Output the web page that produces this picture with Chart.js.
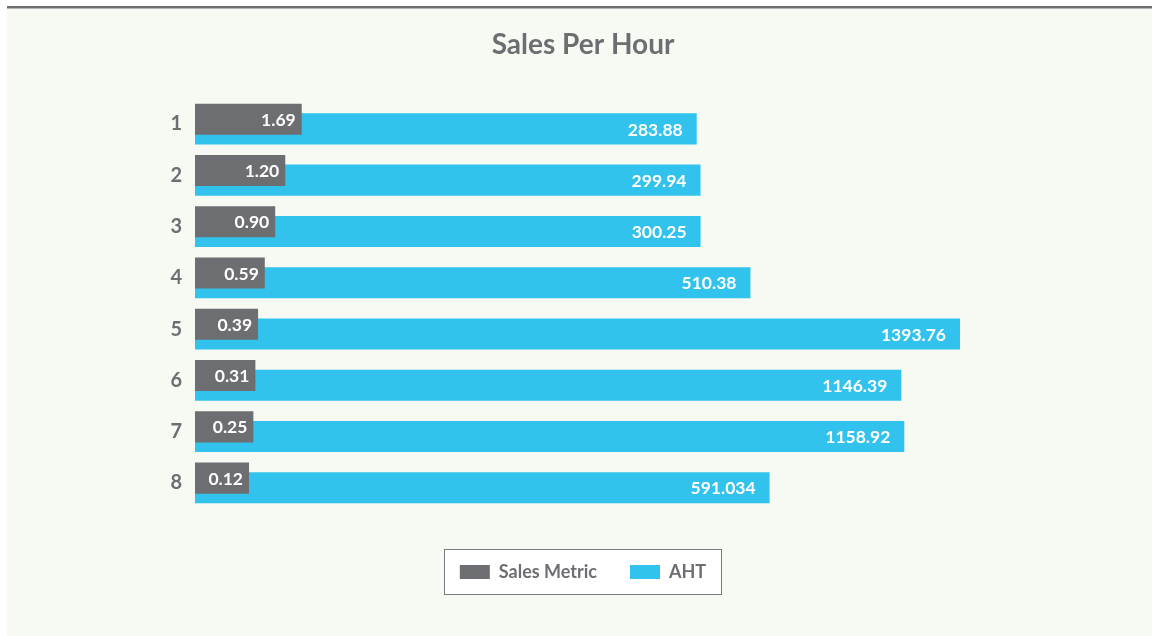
<!DOCTYPE html>
<html>
<head>
<meta charset="utf-8">
<script src="https://cdn.jsdelivr.net/npm/chart.js@4.4.0/dist/chart.umd.min.js"></script>
<style>
html,body{margin:0;padding:0;background:#ffffff;}
#wrap{position:relative;width:1152px;height:636px;}
</style>
</head>
<body>
<div id="wrap"><canvas id="c" width="1152" height="636"></canvas></div>
<script>
const categories = ['1','2','3','4','5','6','7','8'];
const salesMetric = [1.69, 1.20, 0.90, 0.59, 0.39, 0.31, 0.25, 0.12];
const aht = [283.88, 299.94, 300.25, 510.38, 1393.76, 1146.39, 1158.92, 591.034];
const salesLabels = ['1.69','1.20','0.90','0.59','0.39','0.31','0.25','0.12'];
const ahtLabels = ['283.88','299.94','300.25','510.38','1393.76','1146.39','1158.92','591.034'];
const seriesNames = ['Sales Metric', 'AHT'];

const GRAY = '#6d6e72';
const CYAN = '#31c3ed';
const TEXT = '#6d6e71';
const FONT = 'Lato, "Open Sans", sans-serif';

// axis ranges
const salesRange = {min: -1.489, max: 24.04};
const ahtRange = {min: -1830.9, max: 1781.5};

const panelPlugin = {
  id: 'panel',
  beforeDraw(chart) {
    const ctx = chart.ctx;
    ctx.save();
    ctx.fillStyle = '#ffffff';
    ctx.fillRect(0, 0, chart.width, chart.height);
    ctx.fillStyle = '#f7f9f3';
    ctx.fillRect(7, 6, chart.width - 7, chart.height - 6);
    ctx.fillStyle = '#6d6e71';
    ctx.fillRect(7, 6, chart.width - 7, 2);
    ctx.fillStyle = '#b5b6b8';
    ctx.fillRect(7, 8, chart.width - 7, 1);
    const lg = chart.legend;
    if (lg && lg.legendHitBoxes && lg.legendHitBoxes.length) {
      const hb = lg.legendHitBoxes;
      let l = Infinity, r = -Infinity, t = Infinity, b = -Infinity;
      hb.forEach(h => { l = Math.min(l, h.left); r = Math.max(r, h.left + h.width); t = Math.min(t, h.top); b = Math.max(b, h.top + h.height); });
      const cy = (t + b) / 2;
      const x0 = Math.round(l - 16) + 0.5, x1 = Math.round(r + 15) + 0.5;
      const y0 = Math.round(cy - 23.5) + 0.5, y1 = Math.round(cy + 22) + 0.5;
      ctx.fillStyle = '#ffffff';
      ctx.fillRect(x0, y0, x1 - x0, y1 - y0);
      ctx.strokeStyle = '#7a7b7e';
      ctx.lineWidth = 1;
      ctx.strokeRect(x0, y0, x1 - x0, y1 - y0);
    }
    ctx.restore();
  }
};

const labelPlugin = {
  id: 'barLabels',
  afterDatasetsDraw(chart) {
    const ctx = chart.ctx;
    ctx.save();
    ctx.fillStyle = '#ffffff';
    ctx.textAlign = 'right';
    ctx.textBaseline = 'middle';
    ctx.font = 'bold 17.5px ' + FONT;
    const sets = [{idx: 0, labels: salesLabels, pad: 6}, {idx: 1, labels: ahtLabels, pad: 14}];
    sets.forEach(s => {
      const meta = chart.getDatasetMeta(s.idx);
      meta.data.forEach((bar, i) => {
        ctx.fillText(s.labels[i], bar.x - s.pad, bar.y + 1);
      });
    });
    ctx.restore();
  }
};

new Chart(document.getElementById('c'), {
  type: 'bar',
  data: {
    labels: categories,
    datasets: [
      {label: seriesNames[0], data: salesMetric, backgroundColor: GRAY, xAxisID: 'xs',
       base: salesRange.min, categoryPercentage: 0.379, barPercentage: 3.2},
      {label: seriesNames[1], data: aht, backgroundColor: CYAN, xAxisID: 'xa',
       base: ahtRange.min, categoryPercentage: 0.379, barPercentage: 3.2}
    ]
  },
  options: {
    indexAxis: 'y',
    responsive: false,
    animation: false,
    devicePixelRatio: 1,
    layout: {padding: {left: 114, right: 100, top: 0, bottom: 45}},
    scales: {
      y: {
        grid: {display: false, drawTicks: false},
        border: {display: false},
        ticks: {color: TEXT, font: {family: FONT, size: 20, weight: 'bold'}, padding: 13},
        afterFit(axis) { axis.width = 81; }
      },
      xs: {
        position: 'top', display: false,
        min: salesRange.min, max: salesRange.max
      },
      xa: {
        position: 'bottom', display: true,
        min: ahtRange.min, max: ahtRange.max,
        grid: {display: false, drawTicks: false},
        border: {display: false},
        ticks: {display: false},
        afterFit(axis) { axis.height = 21.4; }
      }
    },
    plugins: {
      title: {
        display: true, text: 'Sales Per Hour', color: TEXT,
        font: {family: FONT, size: 28, weight: 'bold'},
        padding: {top: 28.5, bottom: 36.3}
      },
      legend: {
        position: 'bottom',
        labels: {
          color: TEXT, boxWidth: 30, boxHeight: 14, padding: 33,
          font: {family: FONT, size: 18, weight: 'bold'}
        }
      },
      tooltip: {enabled: false}
    }
  },
  plugins: [panelPlugin, labelPlugin]
});
</script>
</body>
</html>
